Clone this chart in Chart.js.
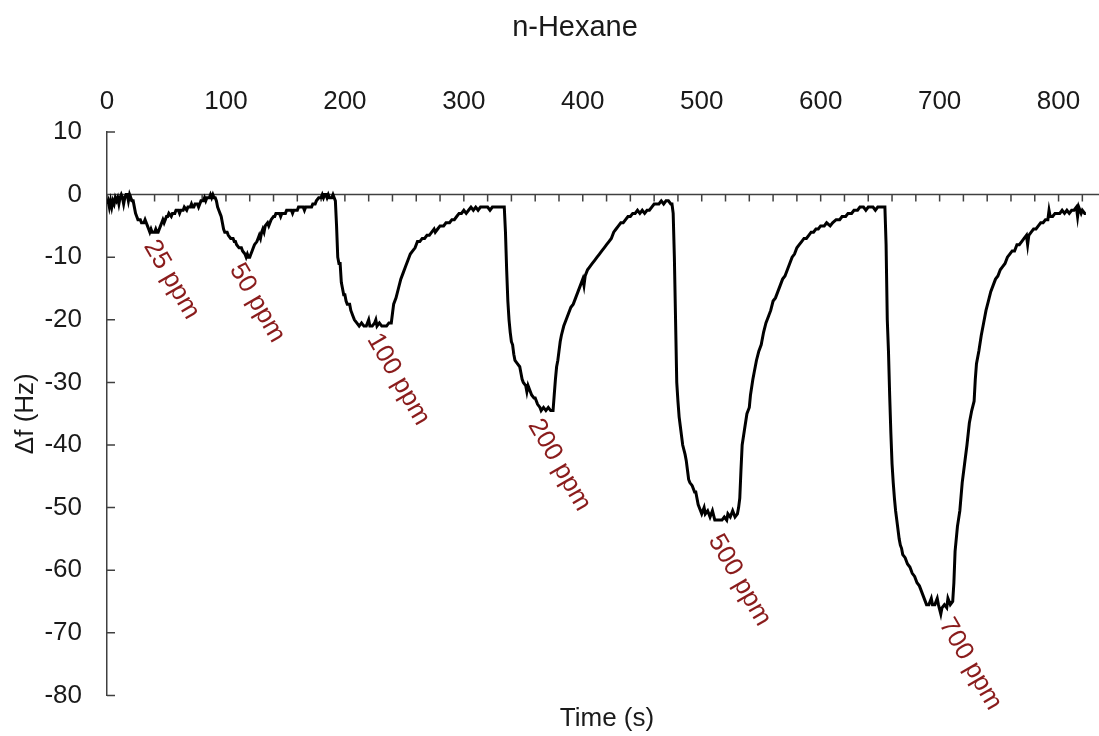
<!DOCTYPE html>
<html lang="en">
<head>
<meta charset="UTF-8">
<title>n-Hexane</title>
<script src="https://cdn.jsdelivr.net/npm/chart.js"></script>
<style>
  html, body { margin: 0; padding: 0; background: #fff; }
  .grafica { width: 1099px; height: 736px; }
</style>
</head>
<body>
<div class="grafica"><canvas id="miGrafica"></canvas></div>

<script>
// QCM response to n-hexane pulses: time (s) vs frequency shift (Hz)
const t25 = [0,1,2,3,4,5,6,7,8,9,10,11,12,13,14,15,16,17,18,19,20,21,22,23,24,25,26,28,29,31,32,33,34,35,36,37,38,40,41,42,43,44,45,46,47,48,49,50,51,52,54,55,57,58,60,61,62,64,65,67,68,70,71,72,73,74,76,77,78,79,81,82,83,84,86,87,88,89,90,91];
const f25 = [-1.5,-1,-2,-1,-2,-1,-1.5,-0.5,-1,-0.5,-1.5,-0.5,0,-0.5,-1.5,-0.5,0,0,-1,0,-0.5,-1,-1,-2,-3,-3.5,-4,-4,-4.5,-4.5,-4,-4.5,-5,-5.5,-6,-5.5,-6,-6,-5.5,-6,-6,-5.5,-5,-4.5,-4,-4.5,-4,-3.5,-3.5,-3,-3.5,-3,-3,-2.5,-2.5,-3,-2.5,-2.5,-2,-2.5,-2,-2,-1.5,-2,-2,-1.5,-1.5,-2,-1.5,-1,-1,-0.5,-1,-0.5,-0.5,0,-0.5,0,-0.5,-0.5];

const t50 = [92,93,94,95,96,97,98,99,101,102,104,106,107,108,109,111,113,114,116,117,118,119,120,121,122,123,124,126,127,128,129,130,131,132,133,135,136,137,138,140,141,142,145,146,147,150,151,155,156,157,160,161,165,166,167,172,173,175,176,178,180,181,182,183,184,185,186,187,188,189,190,191];
const f50 = [-1,-2,-2.5,-3,-3.5,-4.5,-5.5,-6,-6,-6.5,-7,-7,-7.5,-7.5,-8,-8.5,-8.5,-9,-9.5,-10,-9.5,-10,-10,-9.5,-9,-8.5,-8,-7.5,-7,-6.5,-7,-6,-5.5,-6,-5,-4.5,-5,-4.5,-4,-3.5,-3.5,-3,-3,-3.5,-3,-3,-2.5,-2.5,-3,-2.5,-2.5,-2,-2,-2.5,-2,-2,-1.5,-1.5,-1,-0.5,-0.5,0,-0.5,0,0,-0.5,0,-0.5,-0.5,-0.5,0,-0.5];

const t100 = [192,193,194,195,196,197,198,199,200,201,202,204,205,207,208,210,212,214,216,218,220,221,223,225,226,227,229,231,233,235,237,239,240,241,243,245,247,249,251,253,255,257,259,261,263,265,267,269,271,273,275,276,278,280,283,285,288,290,292,294,296,298,300,302,304,306,308,310,312,314,316,318,320,322,324,326,328,330,332];
const f100 = [-1,-5,-10,-11,-11,-14,-15,-16,-16,-17,-17.5,-17.5,-18.5,-19.5,-20,-20.5,-21,-20.5,-21,-21,-20,-21,-21,-20.5,-20,-21,-20.5,-21,-21,-21,-20.5,-20.5,-19,-17.5,-16.5,-15,-13.5,-12.5,-11.5,-10.5,-9.5,-9,-8.5,-7.5,-7.5,-7,-7,-6.5,-6.5,-6,-5.5,-6,-5.5,-5,-5,-4.5,-4.5,-4,-4,-3.5,-3,-3,-2.5,-3,-2.5,-2,-2.5,-2,-2.5,-2,-2,-2,-2,-2.5,-2,-2,-2,-2,-2];

const t200 = [333,334,335,336,337,338,339,340,341,342,343,345,347,348,349,350,352,353,354,355,357,359,360,362,364,365,367,369,371,373,375,376,377,378,379,380,381,382,384,386,388,390,392,394,396,398,400,401,402,404,406,408,410,412,414,416,418,420,422,424,426,428,430,432,434,436,438,440,442,444,446,448,450,452,454,456,458,460,462,464,466,468,470,472,474];
const f200 = [-2,-2,-6,-12,-17,-20,-22,-23.5,-24,-25.5,-26.5,-27,-27.5,-28.5,-29.5,-30,-30.5,-31.5,-30.5,-31,-32,-32.5,-32.5,-33.5,-34,-34.5,-34,-34.5,-34,-34.5,-34.5,-32,-29.5,-27.5,-26.5,-25,-23.5,-22.5,-21,-20,-19,-18,-17.5,-16.5,-15.5,-14.5,-13.5,-14.5,-13,-12,-11.5,-11,-10.5,-10,-9.5,-9,-8.5,-8,-7.5,-7,-6,-5.5,-5,-4.5,-4.5,-4,-3.5,-3.5,-3,-3,-2.5,-3,-2.5,-3,-2.5,-2.5,-2,-1.5,-1.5,-1.5,-1,-1.5,-1,-1,-1.5];

const t500 = [475,476,477,478,479,480,481,482,483,484,486,487,488,489,490,492,494,495,496,497,499,500,502,503,505,507,509,511,513,515,517,519,521,522,524,526,528,530,531,532,533,534,536,538,540,541,543,544,546,548,550,552,554,556,558,560,562,564,566,568,570,572,574,576,578,580,582,584,586,588,590,592,594,596,598,600,603,605,608,610,613,616,618,621,623,626,628,631,633,636,638,640,644,646,648,652,653];
const f500 = [-1.5,-3,-10,-20,-30,-33,-35.5,-37,-38.5,-40,-41.5,-42.5,-44,-45.5,-46,-46.5,-47.5,-47.5,-48.5,-49.5,-50.5,-51,-50,-51,-50.5,-51.5,-50.5,-52,-52,-52,-52,-51.5,-52,-51,-51.5,-50.5,-51.5,-51,-50,-48.5,-44,-40,-37.5,-35,-34,-32,-29.5,-28.5,-26.5,-25,-24,-22,-20.5,-19.5,-18.5,-17,-16.5,-15.5,-14.5,-13.5,-13,-12,-11,-10,-9.5,-8.5,-8,-7.5,-7,-7,-6.5,-6,-6,-5.5,-5.5,-5,-5,-4.5,-5,-4.5,-4,-4,-3.5,-3.5,-3,-3,-2.5,-2.5,-2,-2,-2.5,-2,-2,-2.5,-2,-2,-2];

const t700 = [654,655,656,657,658,659,660,661,662,663,664,665,666,667,668,669,671,673,675,677,679,681,683,685,687,689,691,693,694,696,698,699,701,702,704,706,707,709,711,712,713,715,717,719,721,723,725,727,729,730,731,733,735,737,739,741,743,745,747,749,751,753,755,757,759,761,763,765,767,769,771,773,774,775,777,779,781,783,785,787,789,791,792,793,795,797,799,801,803,805,807,809,811,813,815,816,817,818,819,820,822,823];
const f700 = [-2,-8,-20,-25,-32,-38,-43,-46,-48.5,-50.5,-52,-53.5,-55,-56,-56.5,-57.5,-58,-59,-59.5,-60.5,-61,-62,-62.5,-63.5,-64.5,-65.5,-65.5,-64.5,-65.5,-65.5,-64.5,-65.5,-67,-66,-65.5,-66,-64.5,-65.5,-65,-62,-57,-53,-50.5,-46,-43,-40,-36.5,-34.5,-33,-29.5,-27,-25,-22.5,-20.5,-18.5,-17,-15.5,-14.5,-13.5,-13,-12,-11.5,-11,-10,-9.5,-9,-9,-8,-8,-7.5,-7,-6.5,-8,-6.5,-6,-5.5,-5.5,-5,-4.5,-4.5,-4,-4,-2.5,-3.5,-3.5,-3,-3,-3,-2.5,-3,-2.5,-3,-2.5,-2.5,-2,-3.5,-2,-2.5,-3,-2.5,-3,-3];

// concentration tags, placed just under each minimum
const dosis = ['25 ppm', '50 ppm', '100 ppm', '200 ppm', '500 ppm', '700 ppm'];
const dosisTiempo = [36, 108, 223.5, 359, 510.5, 704.5];
const dosisValor = [-7.6, -11.3, -22.5, -36.2, -54.6, -68];

const tiempo = [...t25, ...t50, ...t100, ...t200, ...t500, ...t700];
const deltaF = [...f25, ...f50, ...f100, ...f200, ...f500, ...f700];

const FUENTE = '"Liberation Sans", Arial, sans-serif';
const GRIS = '#404040';

// axis line at y = 0, inward tick marks, tags and titles
const ejes = {
    id: 'ejes',
    beforeDatasetsDraw(chart) {
        const { ctx, chartArea, scales: { x, y } } = chart;
        const y0 = y.getPixelForValue(0);
        ctx.save();
        ctx.strokeStyle = GRIS;
        ctx.lineWidth = 1.5;
        ctx.beginPath();
        ctx.moveTo(chartArea.left, y0);
        ctx.lineTo(chartArea.right, y0);
        x.ticks.forEach(t => {
            const px = x.getPixelForValue(t.value);
            ctx.moveTo(px, y0);
            ctx.lineTo(px, y0 + 7);
        });
        y.ticks.forEach(t => {
            const py = y.getPixelForValue(t.value);
            ctx.moveTo(chartArea.left, py);
            ctx.lineTo(chartArea.left + 8, py);
        });
        ctx.stroke();
        ctx.restore();
    },
    afterDatasetsDraw(chart) {
        const { ctx, scales: { x, y } } = chart;
        ctx.save();
        ctx.fillStyle = '#8a1c1c';
        ctx.font = '26px ' + FUENTE;
        ctx.textAlign = 'left';
        ctx.textBaseline = 'middle';
        dosis.forEach((txt, i) => {
            ctx.save();
            ctx.translate(x.getPixelForValue(dosisTiempo[i]), y.getPixelForValue(dosisValor[i]));
            ctx.rotate(Math.PI / 3);
            ctx.fillText(txt, 0, 0);
            ctx.restore();
        });
        ctx.restore();
    },
    afterDraw(chart) {
        const { ctx } = chart;
        ctx.save();
        ctx.fillStyle = '#1a1a1a';
        ctx.textAlign = 'center';
        ctx.textBaseline = 'alphabetic';
        ctx.font = '29px ' + FUENTE;
        ctx.fillText('n-Hexane', 575, 36);
        ctx.font = '26px ' + FUENTE;
        ctx.fillText('Time (s)', 607, 726);
        ctx.restore();
    }
};

const ctx = document.getElementById('miGrafica').getContext('2d');
new Chart(ctx, {
    type: 'line',
    data: {
        datasets: [{
            label: 'n-Hexane',
            data: tiempo.map((t, i) => ({ x: t, y: deltaF[i] })),
            borderColor: '#000',
            borderWidth: 3,
            pointRadius: 0,
            tension: 0,
            fill: false
        }]
    },
    options: {
        responsive: true,
        maintainAspectRatio: false,
        devicePixelRatio: 1,
        animation: false,
        layout: { padding: { left: 0, right: 0, top: 0, bottom: 37 } },
        plugins: {
            legend: { display: false },
            tooltip: { enabled: false },
            title: { display: false }
        },
        scales: {
            x: {
                type: 'linear',
                position: 'top',
                min: 0,
                max: 834,
                grid: { display: false, drawTicks: false },
                border: { display: false },
                ticks: {
                    stepSize: 20,
                    includeBounds: false,
                    autoSkip: false,
                    maxRotation: 0,
                    padding: 15,
                    color: '#1a1a1a',
                    font: { family: FUENTE, size: 26 },
                    callback: v => (v % 100 === 0 ? v : '')
                },
                afterFit: s => { s.height = 132; }
            },
            y: {
                min: -80,
                max: 10,
                grid: { display: false, drawTicks: false },
                border: { display: true, color: GRIS, width: 1.5 },
                ticks: {
                    stepSize: 10,
                    padding: 25,
                    color: '#1a1a1a',
                    font: { family: FUENTE, size: 26 }
                },
                title: {
                    display: true,
                    text: 'Δf (Hz)',
                    color: '#1a1a1a',
                    font: { family: FUENTE, size: 26 },
                    padding: { top: 10, bottom: 0 }
                },
                afterFit: s => { s.width = 107; }
            }
        }
    },
    plugins: [ejes]
});
</script>
</body>
</html>
